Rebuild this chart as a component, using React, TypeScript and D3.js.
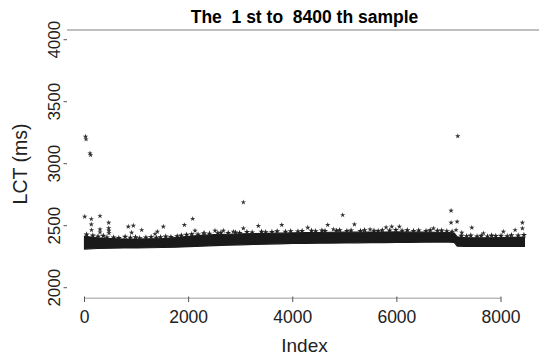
import React from "react";
import * as d3 from "d3";

const xTicks = [0, 2000, 4000, 6000, 8000];
const yTicks = [2000, 2500, 3000, 3500, 4000];

// dense band envelope (index, lower, upper)
const bandIndex = [0, 250, 500, 750, 1000, 1250, 1500, 1750, 2000, 2250, 2500, 2750, 3000, 3250, 3500, 3750, 4000, 4250, 4500, 4750, 5000, 5250, 5500, 5750, 6000, 6250, 6500, 6750, 7000, 7100, 7160, 7300, 7500, 7750, 8000, 8250, 8450];
const bandLower = [2312, 2316, 2318, 2320, 2321, 2322, 2324, 2327, 2331, 2335, 2340, 2343, 2346, 2349, 2352, 2354, 2357, 2358, 2359, 2360, 2361, 2362, 2363, 2364, 2365, 2366, 2367, 2368, 2368, 2366, 2336, 2334, 2333, 2333, 2333, 2333, 2334];
const bandUpper = [2415, 2402, 2396, 2392, 2392, 2394, 2396, 2404, 2414, 2422, 2428, 2431, 2434, 2436, 2438, 2440, 2442, 2444, 2445, 2447, 2448, 2448, 2449, 2449, 2450, 2448, 2448, 2447, 2445, 2440, 2410, 2404, 2402, 2402, 2404, 2406, 2408];

// samples just above the dense band (its ragged top edge)
const edgeIndex = [40, 160, 260, 360, 430, 560, 660, 780, 880, 980, 1060, 1180, 1280, 1380, 1460, 1560, 1660, 1780, 1860, 1960, 2060, 2180, 2300, 2400, 2560, 2620, 2760, 2900, 2980, 3120, 3220, 3400, 3480, 3600, 3700, 3860, 3960, 4100, 4180, 4360, 4440, 4560, 4620, 4840, 4900, 5040, 5120, 5300, 5380, 5560, 5640, 5720, 5860, 5980, 6100, 6200, 6320, 6420, 6560, 6640, 6780, 6860, 6960, 7060, 7240, 7340, 7420, 7540, 7620, 7740, 7820, 7900, 8000, 8120, 8200, 8330, 8440];
const edgeValue = [2428, 2420, 2412, 2418, 2405, 2404, 2400, 2410, 2403, 2406, 2398, 2404, 2409, 2402, 2406, 2412, 2408, 2414, 2420, 2426, 2430, 2428, 2438, 2436, 2440, 2444, 2442, 2446, 2441, 2450, 2446, 2452, 2448, 2450, 2455, 2452, 2456, 2454, 2458, 2460, 2455, 2462, 2457, 2460, 2463, 2458, 2462, 2457, 2464, 2460, 2458, 2464, 2461, 2466, 2460, 2463, 2458, 2462, 2458, 2463, 2459, 2461, 2456, 2452, 2418, 2414, 2420, 2412, 2418, 2413, 2421, 2416, 2419, 2414, 2422, 2420, 2424];

// individual outlying samples
const outIndex = [20, 30, 106, 118, 7170, 3051, 4, 131, 131, 135, 298, 298, 298, 465, 465, 468, 470, 841, 938, 905, 1099, 1354, 1400, 1514, 1918, 2078, 2123, 2283, 2507, 2667, 2859, 3051, 3339, 3789, 4288, 4672, 4960, 5184, 4780, 5485, 5793, 5902, 6048, 6701, 7041, 7041, 7157, 7137, 7247, 7439, 8271, 8411, 8411, 8046, 7662];
const outValue = [3218, 3197, 3084, 3070, 3223, 2689, 2573, 2554, 2511, 2465, 2578, 2471, 2447, 2524, 2480, 2460, 2440, 2492, 2500, 2444, 2465, 2433, 2452, 2492, 2506, 2556, 2460, 2439, 2460, 2460, 2452, 2479, 2498, 2506, 2484, 2506, 2586, 2511, 2471, 2471, 2487, 2492, 2492, 2479, 2621, 2524, 2532, 2465, 2444, 2484, 2465, 2524, 2479, 2452, 2439];

export default function App() {
  const W = 539, H = 358;
  const x = d3.scaleLinear().domain([0, 8000]).range([84.5, 501]);
  const y = d3.scaleLinear().domain([2000, 4000]).range([287.7, 39.7]);
  const band = bandIndex.map((i, k) => ({ i, lo: bandLower[k], hi: bandUpper[k] }));
  const area = d3.area<any>().x((d) => x(d.i)).y0((d) => y(d.lo)).y1((d) => y(d.hi));
  const star = d3.symbol().type(d3.symbolStar).size(9)() as string;
  const edgeStar = d3.symbol().type(d3.symbolStar).size(12)() as string;
  const font = "'Liberation Sans', Arial, Helvetica, sans-serif";
  return (
    <svg width={W} height={H} style={{ position: "absolute", left: 0, top: 0 }} fontFamily={font}>
      <rect width={W} height={H} fill="#fff" />
      <text x={304.5} y={22.7} textAnchor="middle" fontWeight="bold" fontSize={17.5} style={{ whiteSpace: "pre" }}>
        {"The  1 st to  8400 th sample"}
      </text>
      <line x1={67} x2={539} y1={30} y2={30} stroke="#aaa" strokeWidth={1.3} />
      {yTicks.map((t) => (
        <g key={t}>
          <line x1={63.5} x2={67} y1={y(t)} y2={y(t)} stroke="#555" strokeWidth={1} />
          <text transform={`translate(60,${y(t)}) rotate(-90)`} textAnchor="middle" fontSize={17} fill="#222">
            {t}
          </text>
        </g>
      ))}
      <line x1={x(0)} x2={x(8000)} y1={298.3} y2={298.3} stroke="#bbb" strokeWidth={1.5} />
      {xTicks.map((t) => (
        <g key={t}>
          <line x1={x(t)} x2={x(t)} y1={296.5} y2={302} stroke="#555" strokeWidth={1} />
          <text x={x(t)} y={322.7} textAnchor="middle" fontSize={17.5} fill="#222">
            {t}
          </text>
        </g>
      ))}
      <text x={304.5} y={352} textAnchor="middle" fontSize={19} fill="#222">Index</text>
      <text transform="translate(27,164) rotate(-90)" textAnchor="middle" fontSize={19.5} fill="#222">LCT (ms)</text>
      <path d={area(band) as string} fill="#1a1a1a" stroke="#1a1a1a" strokeWidth={1.2} />
      {edgeIndex.map((i, k) => (
        <path key={"e" + k} d={edgeStar} transform={`translate(${x(i)},${y(edgeValue[k])})`} fill="#222" />
      ))}
      {outIndex.map((i, k) => (
        <path key={k} d={star} transform={`translate(${x(i)},${y(outValue[k])})`} fill="#333" />
      ))}
    </svg>
  );
}
